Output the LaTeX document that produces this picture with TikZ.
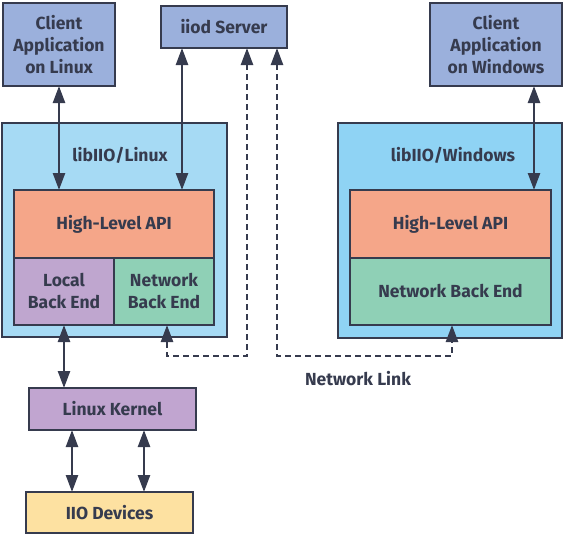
\documentclass[tikz,border=0pt]{standalone}
\usepackage{fontspec}
\setmainfont{Fira Sans}[BoldFont={Fira Sans Bold}]
\usetikzlibrary{arrows.meta}
\definecolor{ink}{HTML}{363B4E}
\definecolor{cliblue}{HTML}{9BB0DC}
\definecolor{liblin}{HTML}{A6DAF4}
\definecolor{libwin}{HTML}{8FD3F4}
\definecolor{apisalmon}{HTML}{F5A689}
\definecolor{lbepurple}{HTML}{BFA6CF}
\definecolor{nbegreen}{HTML}{8FD0B6}
\definecolor{kernpurple}{HTML}{C1A5D0}
\definecolor{iioyellow}{HTML}{FDE1A1}
\tikzset{
  box/.style={draw=ink, line width=2.4pt, inner sep=0pt, outer sep=0pt, text=ink,
    font=\fontsize{17.5}{22}\selectfont\bfseries, align=center},
  dbl/.style={draw=ink, line width=2.4pt, {Triangle[length=17pt,width=12pt]}-{Triangle[length=17pt,width=12pt]}},
  dsh/.style={draw=ink, line width=2.4pt, dash pattern=on 6pt off 4pt, {Triangle[length=17pt,width=12pt]}-{Triangle[length=17pt,width=12pt]}},
  lbl/.style={text=ink, font=\fontsize{17.5}{22}\selectfont\bfseries, inner sep=0pt}
}
\begin{document}
\begin{tikzpicture}[x=1pt,y=-1pt]
\useasboundingbox (0,0) rectangle (565,536);
% containers
\node[box, fill=liblin, minimum width=225pt, minimum height=214pt] (libL) at (114.5,230) {};
\node[box, fill=libwin, minimum width=224pt, minimum height=215pt] (libW) at (450,230.5) {};
\node[lbl] (libLt) at (120,155) {libIIO/Linux};
\node[lbl] (libWt) at (453,155) {libIIO/Windows};
% top boxes
\node[box, fill=cliblue, minimum width=112pt, minimum height=83pt] (cal) at (59,44.5) {Client\\Application\\on Linux};
\node[box, fill=cliblue, minimum width=126pt, minimum height=42pt] (iiod) at (224,27) {iiod Server};
\node[box, fill=cliblue, minimum width=132pt, minimum height=83pt] (caw) at (496,44.5) {Client\\Application\\on Windows};
% inner boxes left
\node[box, fill=apisalmon, minimum width=200pt, minimum height=68pt] (hlL) at (114,224) {High-Level API};
\node[box, fill=lbepurple, minimum width=100pt, minimum height=67pt] (lbe) at (64,291.5) {Local\\Back End};
\node[box, fill=nbegreen, minimum width=100pt, minimum height=67pt] (nbe) at (164,291.5) {Network\\Back End};
% inner boxes right
\node[box, fill=apisalmon, minimum width=201pt, minimum height=68pt] (hlW) at (450.5,224) {High-Level API};
\node[box, fill=nbegreen, minimum width=201pt, minimum height=67pt] (nbeW) at (450.5,291.5) {Network Back End};
% bottom boxes
\node[box, fill=kernpurple, minimum width=167pt, minimum height=42pt] (kern) at (112.5,409) {Linux Kernel};
\node[box, fill=iioyellow, minimum width=167pt, minimum height=41pt] (iio) at (109.5,512.5) {IIO Devices};
\node[lbl] (netlink) at (358,379) {Network Link};
% helper coordinates
\coordinate (xiiod) at (182,0);
\coordinate (xcaw) at (534,0);
\coordinate (xk1) at (72,0);
\coordinate (xk2) at (144,0);
\coordinate (dl) at (247,356);
\coordinate (dr) at (277,356);
\coordinate (xnl) at (167,0);
\coordinate (xnr) at (452,0);
% solid arrows
\draw[dbl] (cal.south) -- (cal.south |- hlL.north);
\draw[dbl] (xiiod |- iiod.south) -- (xiiod |- hlL.north);
\draw[dbl] (xcaw |- caw.south) -- (xcaw |- hlW.north);
\draw[dbl] (lbe.south) -- (lbe.south |- kern.north);
\draw[dbl] (xk1 |- kern.south) -- (xk1 |- iio.north);
\draw[dbl] (xk2 |- kern.south) -- (xk2 |- iio.north);
% dashed network links
\draw[dsh] (dl |- iiod.south) -- (dl) -- (xnl |- dl) -- (xnl |- nbe.south);
\draw[dsh] (dr |- iiod.south) -- (dr) -- (xnr |- dr) -- (xnr |- nbeW.south);
\end{tikzpicture}
\end{document}
